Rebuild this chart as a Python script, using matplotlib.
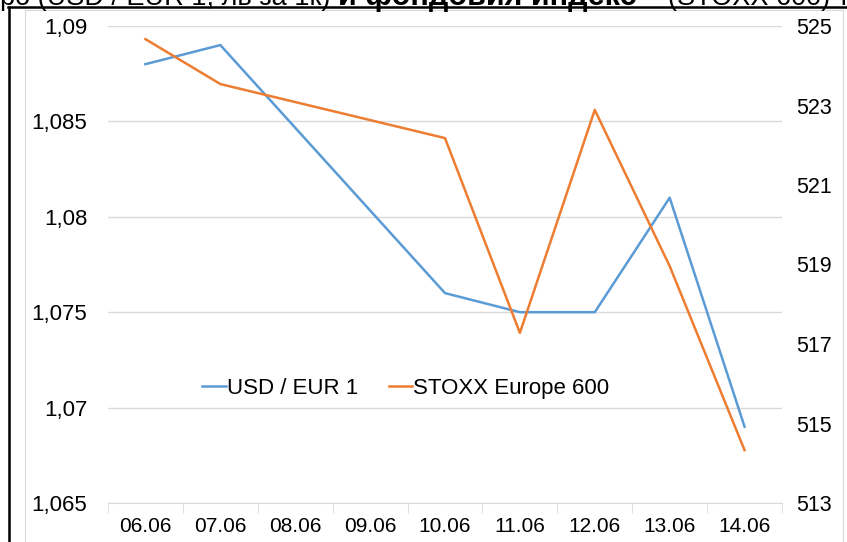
import numpy as np
import matplotlib.pyplot as plt
from matplotlib.lines import Line2D

plt.rcParams['font.family'] = ['Liberation Sans', 'DejaVu Sans']

dates = ['06.06', '07.06', '08.06', '09.06', '10.06', '11.06', '12.06', '13.06', '14.06']
usd_eur = [1.088, 1.089, np.nan, np.nan, 1.076, 1.075, 1.075, 1.081, 1.069]
stoxx = [524.67, 523.54, np.nan, np.nan, 522.18, 517.28, 522.89, 518.96, 514.33]

blue = '#5B9BD5'
orange = '#ED7D31'

fig = plt.figure(figsize=(8.47, 5.42), dpi=100)
ax = fig.add_axes([108/847, 1-503/542, 674/847, 477/542])
ax2 = ax.twinx()

x = np.arange(len(dates))
u = np.array(usd_eur)
s = np.array(stoxx)
mu = ~np.isnan(u)
ms = ~np.isnan(s)
l1, = ax.plot(x[mu], u[mu], color=blue, lw=1.8, label='USD / EUR 1')
l2, = ax2.plot(x[ms], s[ms], color=orange, lw=1.8, label='STOXX Europe 600')

ax.set_xlim(-0.5, len(dates) - 0.5)
ax.set_ylim(1.065, 1.09)
ax.set_yticks([1.065, 1.07, 1.075, 1.08, 1.085, 1.09])
ax.set_yticklabels(['1,065', '1,07', '1,075', '1,08', '1,085', '1,09'])
ax2.set_ylim(513, 525)
ax2.set_yticks([513, 515, 517, 519, 521, 523, 525])

ax.set_xticks(x)
ax.set_xticklabels(dates)
ax.set_xticks(np.arange(-0.5, len(dates)), minor=True)
ax.tick_params(axis='x', which='major', length=0, pad=10, labelsize=15)
ax.tick_params(axis='x', which='minor', length=7, color='#D9D9D9', direction='out')
ax.tick_params(axis='y', length=0, pad=15, labelsize=16)
ax2.tick_params(axis='y', length=0, pad=10, labelsize=15.5)

ax.grid(axis='y', color='#D9D9D9', lw=1)
ax.set_axisbelow(True)
for a in (ax, ax2):
    for side in ('top', 'left', 'right', 'bottom'):
        a.spines[side].set_visible(False)
ax.spines['bottom'].set_visible(True)
ax.spines['bottom'].set_color('#D9D9D9')

ax.legend(handles=[l1, l2], loc='center', bbox_to_anchor=(0.442, 0.241), ncol=2,
          frameon=False, fontsize=16, handlelength=1.05, handletextpad=0.05,
          columnspacing=1.4)

# cut-off title above the chart
ty = 1 - 5/542
fig.text(0/847, ty, 'ро (USD / EUR 1; лв за 1к)', fontsize=19.5, va='baseline', ha='left')
fig.text(338/847, ty, 'и фондовия индекс', fontsize=22, fontweight='bold', va='baseline', ha='left')
fig.text(668/847, ty, '(STOXX 600) т', fontsize=19.5, va='baseline', ha='left')

# borders
fig.add_artist(Line2D([8/847, 1], [1-7/542, 1-7/542], color='black', lw=1.8))
fig.add_artist(Line2D([9/847, 9/847], [0, 1-7/542], color='black', lw=1.8))
fig.add_artist(Line2D([25/847, 843/847], [1-10/542, 1-10/542], color='#D9D9D9', lw=0.8))
fig.add_artist(Line2D([25/847, 25/847], [0, 1-10/542], color='#D9D9D9', lw=0.8))
fig.add_artist(Line2D([843/847, 843/847], [0, 1-10/542], color='#D9D9D9', lw=0.8))

fig.savefig('out.png', dpi=100)
